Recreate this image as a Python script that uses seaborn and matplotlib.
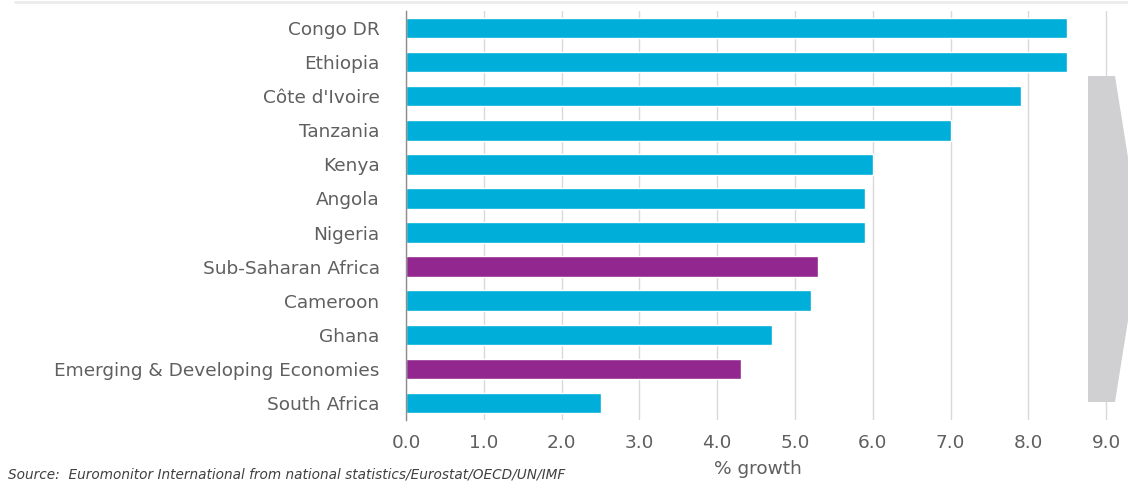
import matplotlib
matplotlib.use("Agg")
import matplotlib.pyplot as plt
from matplotlib.patches import Polygon
from matplotlib.lines import Line2D
import seaborn as sns
import pandas as pd

categories = ["Congo DR", "Ethiopia", "Côte d'Ivoire", "Tanzania", "Kenya", "Angola",
              "Nigeria", "Sub-Saharan Africa", "Cameroon", "Ghana",
              "Emerging & Developing Economies", "South Africa"]
values = [8.5, 8.5, 7.9, 7.0, 6.0, 5.9, 5.9, 5.3, 5.2, 4.7, 4.3, 2.5]
groups = ["country", "country", "country", "country", "country", "country",
          "country", "aggregate", "country", "country", "aggregate", "country"]
xticks = [0, 1, 2, 3, 4, 5, 6, 7, 8, 9]
xtick_labels = ["0.0", "1.0", "2.0", "3.0", "4.0", "5.0", "6.0", "7.0", "8.0", "9.0"]

df = pd.DataFrame({"cat": categories, "val": values, "grp": groups})

sns.set_theme(style="white")
plt.rcParams["font.family"] = ["DejaVu Sans"]

W, H = 1128, 482
fig = plt.figure(figsize=(W / 100, H / 100), dpi=100)
# x: 0 at 406 px, 78 px per unit; show up to 9.05
ax = fig.add_axes([406 / W, 1 - 420 / H, (9.05 * 77.8) / W, (420 - 11) / H])

palette = {"country": "#00AEDA", "aggregate": "#92278F"}
sns.barplot(data=df, y="cat", x="val", hue="grp", palette=palette, dodge=False,
            legend=False, width=0.6, orient="h", ax=ax, saturation=1, zorder=3)

ax.set_xlim(0, 9.05)
ax.set_xticks(xticks)
ax.set_xticklabels(xtick_labels)
ax.xaxis.grid(True, color="#d9d9d9", linewidth=1, zorder=0)
ax.set_axisbelow(True)
for s in ["top", "right", "bottom"]:
    ax.spines[s].set_visible(False)
ax.spines["left"].set_color("#8c8c8c")
ax.spines["left"].set_linewidth(1)
ax.spines["left"].set_zorder(4)
ax.tick_params(axis="both", length=0, colors="#5f5f5f", labelsize=13.3)
ax.tick_params(axis="y", pad=19)
ax.tick_params(axis="x", pad=10)
ax.set_ylabel("")
ax.set_xlabel("% growth", color="#5f5f5f", fontsize=13.3, labelpad=6)

# decorative grey arrow on the right
arrow = Polygon([(1088, H - 76), (1115, H - 76), (1141, H - 239), (1115, H - 402), (1088, H - 402)],
                closed=True, transform=None, facecolor="#d0d0d2", edgecolor="none", zorder=5)
fig.patches.append(arrow)

# faint top border
fig.add_artist(Line2D([15 / W, 1.0], [1 - 2 / H, 1 - 2 / H], transform=fig.transFigure,
                      color="#ebebeb", linewidth=2))

fig.text(8 / W, 1 / H, "Source:  Euromonitor International from national statistics/Eurostat/OECD/UN/IMF",
         fontsize=9.8, style="italic", color="#404040", va="bottom", ha="left")

fig.savefig("out.png", dpi=100)
